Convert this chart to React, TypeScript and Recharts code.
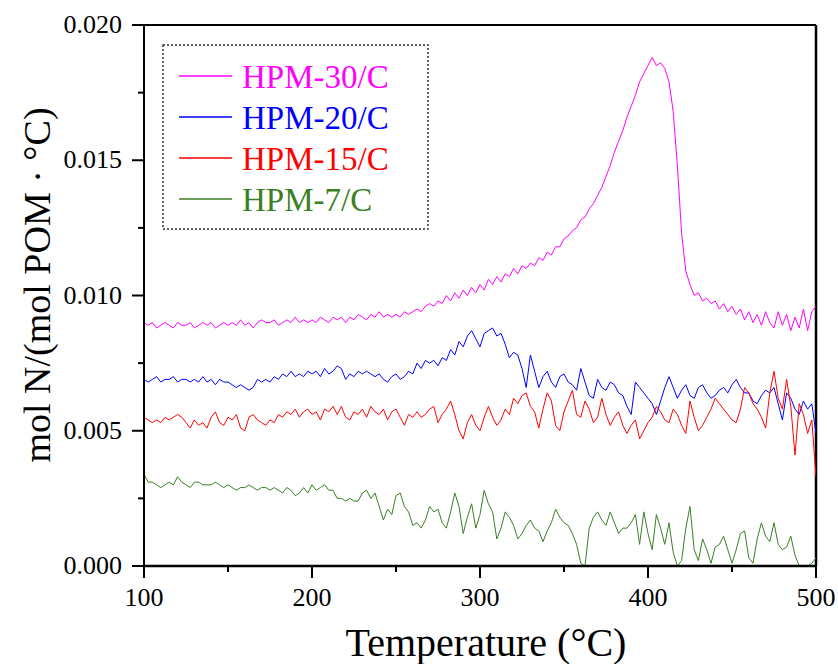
import React from 'react';
import { LineChart, Line, XAxis, YAxis, Legend, ReferenceLine, Label } from 'recharts';

// values are in units of 1e-4 mol N/(mol POM · °C), sampled every 2.5 °C from 100 to 500
const T_START = 100;
const T_STEP = 2.5;

const hpm30 = [
  90, 89, 90, 88, 89, 90, 89, 88, 90, 89,
  89, 90, 88, 89, 90, 89, 90, 88, 89, 90,
  89, 90, 89, 91, 89, 90, 88, 90, 91, 90,
  90, 91, 89, 90, 91, 90, 92, 90, 91, 90,
  91, 90, 92, 91, 90, 92, 91, 92, 90, 92,
  91, 93, 92, 91, 93, 92, 94, 92, 93, 92,
  93, 92, 94, 93, 94, 95, 94, 96, 97, 96,
  98, 97, 100, 98, 101, 99, 102, 100, 103, 101,
  104, 102, 106, 104, 107, 105, 108, 107, 110, 108,
  111, 110, 112, 111, 114, 113, 116, 115, 118, 118,
  121, 122, 124, 125, 128, 129, 132, 134, 137, 140,
  144, 148, 153, 157, 161, 166, 170, 174, 179, 182,
  185, 188, 185, 186, 184, 179, 168, 148, 123, 109,
  104, 100, 101, 98, 99, 97, 98, 95, 97, 94,
  96, 93, 95, 91, 94, 90, 93, 89, 94, 90,
  88, 94, 89, 93, 87, 92, 88, 95, 87, 94,
  96,
];

const hpm20 = [
  69, 68, 69, 70, 68, 69, 69, 70, 68, 69,
  69, 68, 69, 68, 70, 68, 69, 67, 69, 68,
  68, 67, 66, 67, 66, 65, 66, 69, 68, 69,
  68, 70, 69, 71, 70, 72, 70, 71, 70, 72,
  71, 72, 70, 73, 71, 72, 74, 73, 69, 71,
  70, 72, 71, 72, 71, 70, 71, 69, 68, 70,
  71, 69, 70, 72, 71, 75, 73, 76, 75, 76,
  74, 77, 76, 80, 78, 83, 81, 85, 87, 84,
  81, 86, 87, 88, 85, 86, 82, 77, 79, 78,
  73, 66, 78, 72, 66, 70, 72, 68, 66, 70,
  71, 68, 67, 65, 73, 68, 63, 62, 69, 66,
  65, 68, 67, 64, 63, 59, 56, 68, 66, 64,
  62, 60, 56, 61, 66, 70, 66, 62, 65, 67,
  63, 62, 66, 67, 64, 62, 63, 65, 66, 64,
  67, 69, 66, 64, 64, 61, 60, 63, 65, 64,
  66, 60, 54, 64, 62, 58, 56, 61, 58, 60,
  49,
];

const hpm15 = [
  55, 54, 53, 54, 53, 55, 54, 55, 56, 55,
  53, 51, 54, 52, 53, 51, 55, 57, 53, 52,
  55, 54, 56, 51, 50, 55, 56, 54, 53, 52,
  54, 53, 56, 55, 57, 56, 58, 55, 57, 58,
  56, 57, 54, 58, 57, 59, 56, 59, 55, 54,
  57, 56, 58, 55, 59, 57, 56, 58, 54, 57,
  58, 55, 52, 56, 55, 57, 55, 56, 58, 59,
  53, 56, 58, 61, 56, 50, 47, 53, 56, 52,
  50, 55, 59, 55, 52, 54, 58, 56, 62, 60,
  63, 64, 59, 57, 51, 58, 64, 61, 52, 50,
  57, 61, 65, 56, 55, 61, 58, 53, 55, 62,
  56, 52, 55, 57, 52, 49, 52, 54, 47, 50,
  53, 55, 59, 57, 54, 53, 58, 56, 52, 49,
  61, 55, 50, 52, 55, 58, 62, 60, 58, 56,
  54, 53, 58, 66, 64, 60, 58, 55, 51, 64,
  72, 62, 58, 69, 59, 41, 60, 56, 49, 54,
  33,
];

const hpm7 = [
  34, 31, 31, 30, 29, 30, 31, 30, 33, 31,
  30, 29, 31, 31, 30, 30, 30, 31, 30, 29,
  30, 29, 28, 29, 29, 30, 29, 28, 29, 29,
  28, 29, 28, 27, 29, 28, 26, 27, 29, 27,
  30, 28, 29, 30, 28, 28, 25, 25, 24, 25,
  24, 24, 27, 28, 25, 27, 22, 17, 21, 19,
  26, 27, 22, 20, 15, 16, 14, 17, 22, 20,
  21, 16, 14, 20, 27, 22, 12, 18, 23, 14,
  19, 28, 23, 20, 10, 14, 20, 18, 15, 10,
  12, 15, 17, 14, 13, 9, 13, 16, 21, 18,
  16, 15, 12, 8, 1, 0, 14, 18, 20, 17,
  15, 20, 16, 12, 14, 14, 16, 19, 8, 20,
  12, 6, 19, 14, 8, 16, 5, 0, 2, 14,
  22, 6, 2, 10, 6, 1, 7, 8, 11, 6,
  1, 6, 12, 13, 3, 1, 10, 16, 11, 9,
  16, 8, 6, 7, 11, 4, 0, 0, 0, 1,
  3,
];

const seriesNames = ['HPM-30/C', 'HPM-20/C', 'HPM-15/C', 'HPM-7/C'];
const seriesColors = ['#FF00FF', '#0000FF', '#FF0000', '#3B7F25'];
const seriesKeys = ['m30', 'm20', 'm15', 'm7'];

const yTicks = [0, 25, 50, 75, 100, 125, 150, 175, 200];
const xTicks = [100, 150, 200, 250, 300, 350, 400, 450, 500];

const rows = hpm30.map((v, i) => ({
  t: T_START + i * T_STEP,
  m30: v,
  m20: hpm20[i],
  m15: hpm15[i],
  m7: hpm7[i],
}));

const FONT = '"Liberation Serif", "Times New Roman", serif';

const YTick = (props: any) => {
  const { x, y, payload } = props;
  const major = payload.value % 50 === 0;
  return (
    <g>
      <line x1={x - (major ? 12 : 6)} x2={x} y1={y} y2={y} stroke="#000" strokeWidth={2} />
      {major && (
        <text x={x - 22} y={y + 8} textAnchor="end" fontSize={26} fontFamily={FONT} fill="#000">
          {(payload.value / 10000).toFixed(3)}
        </text>
      )}
    </g>
  );
};

const XTick = (props: any) => {
  const { x, y, payload } = props;
  const major = payload.value % 100 === 0;
  return (
    <g>
      <line x1={x} x2={x} y1={y} y2={y + (major ? 12 : 6)} stroke="#000" strokeWidth={2} />
      {major && (
        <text x={x} y={y + 40} textAnchor="middle" fontSize={26} fontFamily={FONT} fill="#000">
          {payload.value}
        </text>
      )}
    </g>
  );
};

const LegendBox = () => (
  <svg width={268} height={187}>
    <rect x={1} y={1} width={265} height={184} fill="#fff" stroke="#333" strokeWidth={1.5} strokeDasharray="2 2" />
    {seriesNames.map((name, i) => {
      const cy = 32 + i * 41;
      return (
        <g key={name}>
          <line x1={17} x2={70} y1={cy} y2={cy} stroke={seriesColors[i]} strokeWidth={1.5} />
          <text x={80} y={cy + 12} fontSize={33} fontFamily={FONT} fill={seriesColors[i]}>
            {name}
          </text>
        </g>
      );
    })}
  </svg>
);

export default function App() {
  return (
    <div style={{ position: 'absolute', left: 0, top: 0, background: '#fff' }}>
      <LineChart width={838} height={664} data={rows} margin={{ top: 25, right: 22, bottom: 0, left: 0 }}>
        <XAxis
          dataKey="t"
          type="number"
          domain={[100, 500]}
          ticks={xTicks}
          height={98}
          tickLine={false}
          tickSize={0}
          tickMargin={0}
          tick={<XTick />}
          axisLine={{ stroke: '#000', strokeWidth: 2.5 }}
          allowDataOverflow
        >
          <Label
            content={() => (
              <text x={486} y={656} textAnchor="middle" fontSize={40} fontFamily={FONT} fill="#000">
                Temperature (°C)
              </text>
            )}
          />
        </XAxis>
        <YAxis
          type="number"
          domain={[0, 200]}
          ticks={yTicks}
          width={144}
          tickLine={false}
          tickSize={0}
          tickMargin={0}
          tick={<YTick />}
          axisLine={{ stroke: '#000', strokeWidth: 2 }}
          allowDataOverflow
        >
          <Label
            content={() => (
              <text
                transform="translate(50,285) rotate(-90)"
                textAnchor="middle"
                fontSize={38}
                fontFamily={FONT}
                fill="#000"
              >
                mol N/(mol POM · °C)
              </text>
            )}
          />
        </YAxis>
        <ReferenceLine y={200} stroke="#000" strokeWidth={2} />
        <ReferenceLine x={500} stroke="#000" strokeWidth={2.5} />
        {seriesKeys.map((k, i) => (
          <Line
            key={k}
            dataKey={k}
            name={seriesNames[i]}
            stroke={seriesColors[i]}
            strokeWidth={1}
            dot={false}
            type="linear"
            isAnimationActive={false}
          />
        ))}
        <Legend
          layout="vertical"
          align="center"
          verticalAlign="middle"
          content={() => <LegendBox />}
          wrapperStyle={{ left: 162, top: 44, width: 268, height: 187 }}
        />
      </LineChart>
    </div>
  );
}
